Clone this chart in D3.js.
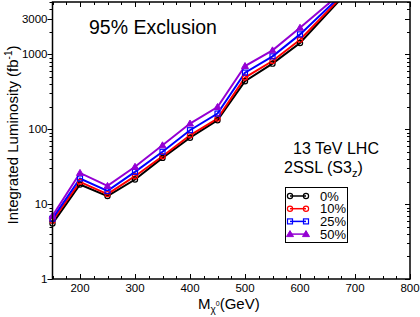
<!DOCTYPE html>
<html>
<head>
<meta charset="utf-8">
<script src="https://cdn.jsdelivr.net/npm/d3@7"></script>
<style>
  body { margin: 0; background: #fff; }
  text { font-family: "Liberation Sans", Arial, sans-serif; fill: #000; }
</style>
</head>
<body>
<script>
// chart values
var masses = [150, 200, 250, 300, 350, 400, 450, 500, 550, 600, 700];
var lum0  = [5.5, 18.3, 12.8, 21.3, 41.4, 77, 132, 437, 751, 1415, 8800];
var lum10 = [6.0, 19.8, 13.6, 23.6, 43.6, 83, 139, 490, 815, 1570, 9000];
var lum25 = [6.4, 22.0, 15.0, 27.0, 50, 97, 162, 570, 940, 1848, 9200];
var lum50 = [7.0, 26.1, 17.5, 31.5, 61, 119, 198, 698, 1130, 2264, 9500];
var seriesNames = ["0%", "10%", "25%", "50%"];
var xTicks = [200, 300, 400, 500, 600, 700, 800];
var yTicks = [1, 10, 100, 1000, 3000];

var width = 420, height = 317;
var pLeft = 52.5, pRight = 410, pTop = 2, pBottom = 279;

var series = [
    { name: seriesNames[0], values: lum0,  color: "#000000", symbol: "circle" },
    { name: seriesNames[1], values: lum10, color: "#ff0000", symbol: "circle" },
    { name: seriesNames[2], values: lum25, color: "#0000ff", symbol: "square" },
    { name: seriesNames[3], values: lum50, color: "#9400d3", symbol: "triangle" }
];

var x = d3.scaleLinear().domain([150, 800]).range([pLeft, pRight]);
var y = d3.scaleLog().domain([1, 5000]).range([pBottom, pTop]);

var svg = d3.select("body").append("svg")
    .attr("width", width)
    .attr("height", height);

svg.append("defs").append("clipPath")
    .attr("id", "clip")
    .append("rect")
    .attr("x", pLeft).attr("y", pTop)
    .attr("width", pRight - pLeft).attr("height", pBottom - pTop);

// minor/major ticks
var xMinor = d3.range(150, 801, 25);
var yMinor = [];
[1, 10, 100, 1000].forEach(function (d) {
    for (var k = 1; k <= 9; k++) if (d * k <= 5000) yMinor.push(d * k);
});

var ticks = svg.append("g").attr("stroke", "#000").attr("stroke-width", 1);
xMinor.forEach(function (v) {
    var len = (v % 100 === 0) ? 5 : 3;
    var px = Math.round(x(v)) + 0.5;
    ticks.append("line").attr("x1", px).attr("x2", px).attr("y1", pBottom).attr("y2", pBottom - len);
    ticks.append("line").attr("x1", px).attr("x2", px).attr("y1", pTop).attr("y2", pTop + len);
});
yMinor.forEach(function (v) {
    var major = yTicks.indexOf(v) >= 0;
    var len = major ? 5 : 3;
    var py = Math.round(y(v)) + 0.5;
    ticks.append("line").attr("x1", pLeft).attr("x2", pLeft - len).attr("y1", py).attr("y2", py);
    ticks.append("line").attr("x1", pRight).attr("x2", pRight - len).attr("y1", py).attr("y2", py);
});

// tick labels
svg.append("g").selectAll("text")
    .data(xTicks)
    .enter().append("text")
    .attr("x", function (d) { return x(d); })
    .attr("y", 291.5)
    .attr("text-anchor", "middle")
    .attr("font-size", "11.5px")
    .text(function (d) { return d; });

svg.append("g").selectAll("text")
    .data(yTicks)
    .enter().append("text")
    .attr("x", pLeft - 5)
    .attr("y", function (d) { return y(d) + 4; })
    .attr("text-anchor", "end")
    .attr("font-size", "11.5px")
    .text(function (d) { return d; });

// series lines
var line = d3.line()
    .x(function (d) { return x(d[0]); })
    .y(function (d) { return y(d[1]); });

var plot = svg.append("g");
series.forEach(function (s) {
    var pts = masses.map(function (m, i) { return [m, s.values[i]]; });
    plot.append("path")
        .datum(pts)
        .attr("clip-path", "url(#clip)")
        .attr("fill", "none")
        .attr("stroke", s.color)
        .attr("stroke-width", 2)
        .attr("d", line);
});

function drawSymbol(g, s, cx, cy) {
    if (s.symbol === "circle") {
        g.append("circle").attr("cx", cx).attr("cy", cy).attr("r", 2.6)
            .attr("fill", "none").attr("stroke", s.color).attr("stroke-width", 1.2);
    } else if (s.symbol === "square") {
        g.append("rect").attr("x", cx - 2.5).attr("y", cy - 2.5).attr("width", 5).attr("height", 5)
            .attr("fill", "none").attr("stroke", s.color).attr("stroke-width", 1.2);
    } else {
        g.append("path")
            .attr("d", "M" + cx + "," + (cy - 3.5) + "L" + (cx + 3.5) + "," + (cy + 2.5) + "L" + (cx - 3.5) + "," + (cy + 2.5) + "Z")
            .attr("fill", s.color).attr("stroke", s.color).attr("stroke-width", 1);
    }
}

series.forEach(function (s) {
    masses.forEach(function (m, i) {
        if (s.values[i] <= 5000) drawSymbol(plot, s, x(m), y(s.values[i]));
    });
});

// frame
svg.append("rect")
    .attr("x", pLeft).attr("y", pTop)
    .attr("width", pRight - pLeft).attr("height", pBottom - pTop)
    .attr("fill", "none")
    .attr("stroke", "#000")
    .attr("stroke-width", 1.5);

// annotations
svg.append("text").attr("x", 89).attr("y", 34).attr("font-size", "19.5px").text("95% Exclusion");
svg.append("text").attr("x", 336).attr("y", 154).attr("text-anchor", "middle").attr("font-size", "16px").text("13 TeV LHC");
var t2 = svg.append("text").attr("x", 284).attr("y", 172.5).attr("font-size", "16px");
t2.append("tspan").text("2SSL (S3");
t2.append("tspan").attr("font-size", "11px").attr("dy", 4).text("z");
t2.append("tspan").attr("dy", -4).text(")");

// legend
var lg = svg.append("g");
lg.append("rect")
    .attr("x", 285.5).attr("y", 187.5)
    .attr("width", 62).attr("height", 55)
    .attr("fill", "#fff").attr("stroke", "#000").attr("stroke-width", 1);
series.forEach(function (s, i) {
    var ly = 196 + i * 12.7;
    lg.append("line").attr("x1", 290).attr("x2", 306).attr("y1", ly).attr("y2", ly)
        .attr("stroke", s.color).attr("stroke-width", 1.5);
    drawSymbol(lg, s, 290, ly);
    drawSymbol(lg, s, 306, ly);
    lg.append("text").attr("x", 320).attr("y", ly + 4.5).attr("font-size", "13px").text(s.name);
});

// axis titles
var xt = svg.append("text").attr("x", 198).attr("y", 308.5).attr("font-size", "15px");
xt.append("tspan").text("M");
xt.append("tspan").attr("font-size", "10px").attr("dy", 4).text("χ");
xt.append("tspan").attr("font-size", "7px").attr("dy", -7).text("0");
xt.append("tspan").attr("dy", 3).text("(GeV)");

var yt = svg.append("text")
    .attr("transform", "translate(18,135) rotate(-90)")
    .attr("text-anchor", "middle")
    .attr("font-size", "15px");
yt.append("tspan").text("Integrated Luminosity (fb");
yt.append("tspan").attr("font-size", "10px").attr("dy", -6).text("-1");
yt.append("tspan").attr("dy", 6).text(")");
</script>
</body>
</html>
